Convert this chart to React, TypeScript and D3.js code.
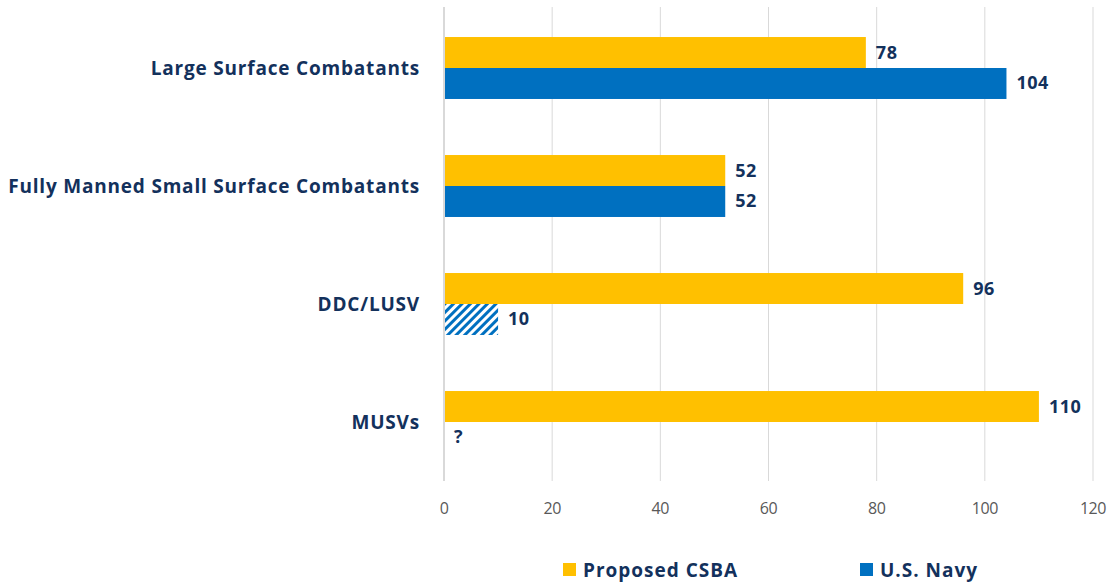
import React from "react";
import * as d3 from "d3";

const categories = ["Large Surface Combatants", "Fully Manned Small Surface Combatants", "DDC/LUSV", "MUSVs"];
const csbaValues = [78, 52, 96, 110];
const navyValues: (number | null)[] = [104, 52, 10, null];
const navyHatched = [false, false, true, false];
const navyLabels = ["104", "52", "10", "?"];
const xTicks = [0, 20, 40, 60, 80, 100, 120];
const seriesNames = ["Proposed CSBA", "U.S. Navy"];
const seriesColors = ["#FFC000", "#0070C0"];

const W = 1113;
const H = 584;
const navy = "#13315C";
const FONT = "'Open Sans', sans-serif";

export default function App() {
  const x = d3.scaleLinear().domain([0, 120]).range([444, 1093]);
  const y = d3.scaleBand<string>().domain(categories).range([9, 481]).paddingInner(0.475).paddingOuter(0.2375);
  const bw = y.bandwidth() / 2;
  return (
    <svg width={W} height={H} style={{ position: "absolute", left: 0, top: 0, background: "#fff" }} fontFamily={FONT}>
      <defs>
        <pattern id="hatch" patternUnits="userSpaceOnUse" width="6" height="6" patternTransform="rotate(45)">
          <rect width="6" height="6" fill="#fff" />
          <rect x="0" y="0" width="3" height="6" fill="#0070C0" />
        </pattern>
      </defs>
      {xTicks.map((t) => (
        <line key={t} x1={x(t)} x2={x(t)} y1={7} y2={481} stroke="#D9D9D9" strokeWidth={t === 0 ? 2 : 1} />
      ))}
      {xTicks.map((t) => (
        <text key={"l" + t} x={x(t)} y={514} textAnchor="middle" fontSize={16} letterSpacing={-0.4} fill="#595959">
          {t}
        </text>
      ))}
      {categories.map((c, i) => {
        const y0 = y(c)!;
        const nv = navyValues[i];
        return (
          <g key={c}>
            <rect x={x(0) + 1} y={y0} width={x(csbaValues[i]) - x(0) - 1} height={bw} fill={seriesColors[0]} />
            <text x={x(csbaValues[i]) + 10} y={y0 + bw / 2 + 6} fontSize={18} letterSpacing={0.5} fontWeight="bold" fill={navy}>
              {csbaValues[i]}
            </text>
            {nv !== null && (
              <rect x={x(0) + 1} y={y0 + bw} width={x(nv) - x(0) - 1} height={bw} fill={navyHatched[i] ? "url(#hatch)" : seriesColors[1]} />
            )}
            <text x={(nv !== null ? x(nv) : x(0)) + 10} y={y0 + bw + bw / 2 + 6} fontSize={18} letterSpacing={0.5} fontWeight="bold" fill={navy}>
              {navyLabels[i]}
            </text>
            <text x={420} y={y0 + bw + 7} textAnchor="end" fontSize={19} letterSpacing={0.8} fontWeight="bold" fill={navy}>
              {c}
            </text>
          </g>
        );
      })}
      {seriesNames.map((s, i) => {
        const lx = i === 0 ? 563 : 860;
        return (
          <g key={s}>
            <rect x={lx} y={563} width={13} height={13} fill={seriesColors[i]} />
            <text x={lx + 20} y={577} fontSize={19} letterSpacing={1} fontWeight="bold" fill={navy}>
              {s}
            </text>
          </g>
        );
      })}
    </svg>
  );
}
